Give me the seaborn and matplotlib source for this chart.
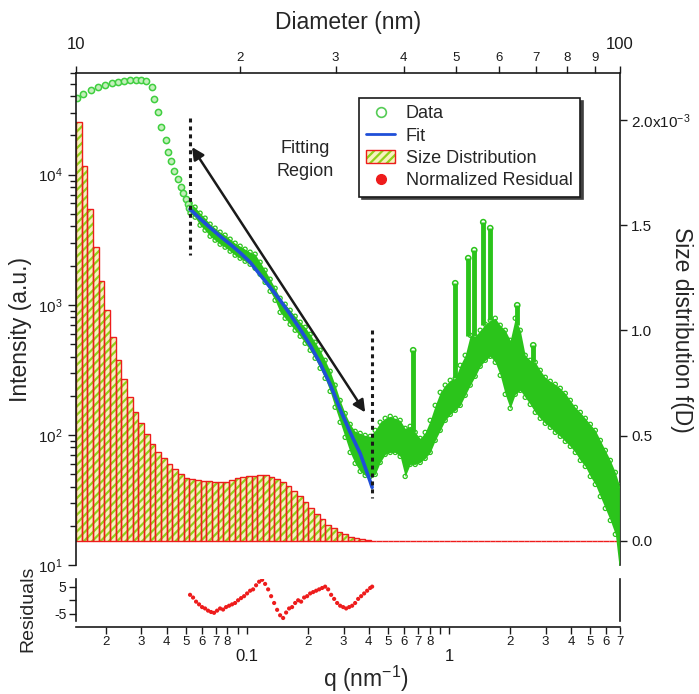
import numpy as np
import matplotlib
matplotlib.use("Agg")
import matplotlib.pyplot as plt
import seaborn as sns
from matplotlib.ticker import FixedLocator, FuncFormatter, LogLocator, NullFormatter, LogFormatterMathtext
from matplotlib.patches import Patch
from matplotlib.lines import Line2D

sns.set_theme(style="white")
plt.rcParams["font.family"] = ["Liberation Sans", "DejaVu Sans"]
plt.rcParams["mathtext.fontset"] = "custom"
plt.rcParams["mathtext.rm"] = "Liberation Sans"
plt.rcParams["mathtext.it"] = "Liberation Sans:italic"
plt.rcParams["hatch.linewidth"] = 1.6

# ---------------- data ----------------
# low-q scattering data (discrete points)
q_low = [0.01435, 0.01549, 0.01684, 0.01836, 0.01982, 0.02138, 0.02298, 0.02460, 0.02636,
         0.02822, 0.02987, 0.03162, 0.03375, 0.03477, 0.03626, 0.03740, 0.03958, 0.04077,
         0.04205, 0.04366, 0.04539, 0.04713, 0.04838, 0.04989, 0.05086, 0.05181]
I_low = [3.90e4, 4.14e4, 4.47e4, 4.69e4, 4.88e4, 5.08e4, 5.19e4, 5.28e4, 5.33e4,
         5.35e4, 5.33e4, 5.28e4, 4.69e4, 3.81e4, 3.04e4, 2.33e4, 1.84e4, 1.50e4,
         1.27e4, 1.07e4, 9.18e3, 7.97e3, 7.17e3, 6.48e3, 5.93e3, 5.50e3]

# dense scattering data: q, centre intensity, lower and upper error extents
q_dense = [0.05222, 0.05529, 0.05853, 0.06197, 0.06561, 0.06946, 0.07354, 0.07785, 0.08242,
           0.08726, 0.09238, 0.09775, 0.1035, 0.1096, 0.1160, 0.1228, 0.1300, 0.1376,
           0.1457, 0.1543, 0.1633, 0.1729, 0.1831, 0.1938, 0.2052, 0.2171, 0.2298,
           0.2433, 0.2576, 0.2727, 0.2887, 0.3057, 0.3236, 0.3426, 0.3627, 0.3840,
           0.4065, 0.4304, 0.4556, 0.4824, 0.5107, 0.5407, 0.5720, 0.6056, 0.6411,
           0.6788, 0.7186, 0.7608, 0.8054, 0.8527, 0.9028, 0.9558, 1.012, 1.071,
           1.134, 1.200, 1.271, 1.345, 1.424, 1.508, 1.597, 1.690, 1.789,
           1.894, 2.004, 2.122, 2.247, 2.378, 2.518, 2.666, 2.822, 2.988,
           3.163, 3.349, 3.545, 3.753, 3.974, 4.207, 4.454, 4.715, 4.992,
           5.285, 5.595, 5.923, 6.271, 6.639, 6.95]
I_hi = [6036, 5624, 5057, 4629, 4162, 3877, 3612, 3425, 3191,
        2972, 2818, 2672, 2535, 2446, 2123, 1842, 1571, 1339,
        1122, 1009, 907, 816, 734, 671, 593, 515, 447,
        374, 308, 241, 184, 146, 120.5, 106.4, 102.7, 99.1,
        97.4, 108.3, 125, 134, 138.8, 134, 129.3, 112.2, 116.3,
        104.5, 94, 104.5, 129.3, 168.6, 212.3, 241, 262.6, 272,
        342.5, 408.8, 582.6, 572.4, 636.6, 708, 760, 787.4, 695.6,
        636.6, 533.3, 787.4, 636.6, 408.8, 374.2, 361.2, 313.4, 276.9,
        258, 244.6, 227.9, 208.5, 184.2, 162.7, 148.9, 134, 120.5,
        108.3, 90.7, 76, 63.66, 51.5, 40.9]
I_mid = [5525, 5148, 4547, 4162, 3742, 3486, 3248, 3079, 2868,
         2672, 2535, 2403, 2279, 2123, 1909, 1656, 1412, 1205,
         991, 891, 801, 721, 648, 583, 515, 447, 381,
         319, 258, 198, 152, 118, 94, 80.1, 73.3, 69.5,
         68.3, 73.3, 87.5, 97.4, 100.9, 99.1, 94, 73.3, 83,
         78.7, 76, 83, 97.4, 125, 152, 177.8, 194.3, 204.9,
         241, 313.4, 374.2, 401.7, 462.8, 515, 552.5, 533.3, 446.7,
         361.2, 292, 401.7, 374.2, 281.8, 253.5, 232, 204.9, 184.2,
         171.6, 159.9, 148.9, 136.4, 122.6, 108.3, 97.4, 87.5, 76,
         66, 55.3, 45.5, 37.42, 29.7, 22]
I_lo = [5057, 4711, 4088, 3742, 3365, 3134, 2920, 2769, 2580,
        2403, 2279, 2160, 2049, 1909, 1716, 1489, 1270, 1083,
        875, 787, 708, 637, 573, 506, 447, 388, 325,
        272, 216, 163, 125, 95.7, 73.3, 60.4, 52.4, 48.8,
        47.95, 49.7, 61.4, 70.8, 73.3, 73.3, 68.3, 47.95, 59.3,
        59.3, 61.4, 66, 73.3, 90.7, 108.3, 129.3, 143.7, 154.3,
        168.6, 201.3, 241, 281.8, 336.5, 374.2, 401.7, 361.2, 286.8,
        204.9, 159.9, 204.9, 219.9, 194.3, 171.6, 148.9, 134, 122.6,
        114.2, 104.5, 97.4, 89.1, 81.6, 73.3, 63.66, 57.2, 47.95,
        41.6, 33.6, 27.2, 22, 17.2, 9.3]

# narrow peaks in the data
spike_q = [0.6635, 1.071, 1.242, 1.330, 1.474, 1.596, 2.171, 2.605]
spike_base = [104.5, 272, 580, 572, 700, 760, 700, 365]
spike_top = [447, 1463, 2279, 2626, 4312, 3877, 991, 488]

# fit curve
q_fit = [0.05222, 0.05853, 0.06561, 0.07354, 0.08242, 0.09238, 0.1035, 0.1160, 0.1300,
         0.1457, 0.1633, 0.1831, 0.2052, 0.2298, 0.2576, 0.2887, 0.3236, 0.3627,
         0.4065, 0.4157]
I_fit = [5428, 4587, 3912, 3364, 2920, 2512, 2123, 1701, 1364,
         1083, 845, 648, 488, 354.8, 244.6, 157, 104.5, 72.0,
         43.9, 39.5]
fit_range_q = [0.0522, 0.416]

# normalized residuals
q_res = [0.05222, 0.05404, 0.05592, 0.05786, 0.05987, 0.06196, 0.06411, 0.06634, 0.06865,
         0.07104, 0.07351, 0.07607, 0.07871, 0.08145, 0.08428, 0.08722, 0.09025, 0.09339,
         0.09664, 0.1000, 0.1035, 0.1071, 0.1108, 0.1147, 0.1187, 0.1228, 0.1271,
         0.1315, 0.1361, 0.1408, 0.1457, 0.1508, 0.1560, 0.1614, 0.1670, 0.1729,
         0.1789, 0.1851, 0.1915, 0.1982, 0.2051, 0.2122, 0.2196, 0.2272, 0.2351,
         0.2433, 0.2518, 0.2605, 0.2696, 0.2790, 0.2887, 0.2987, 0.3091, 0.3199,
         0.3310, 0.3425, 0.3544, 0.3667, 0.3795, 0.3927, 0.4064, 0.4157]
res = [2.0, 1.0, -0.5, -1.5, -2.5, -3.0, -3.8, -4.3, -4.6,
       -3.8, -3.0, -3.4, -2.5, -2.0, -1.5, -1.0, 0.0, 0.8,
       1.5, 2.5, 3.5, 4.0, 5.5, 6.8, 7.5, 6.0, 4.0,
       1.5, -1.0, -3.5, -5.5, -6.5, -4.5, -3.0, -2.5, -1.0,
       0.0, -0.5, 1.0, 1.5, 2.5, 3.0, 3.5, 4.0, 4.5,
       5.0, 4.0, 2.0, 0.5, -1.0, -2.0, -2.5, -3.0, -2.5,
       -2.0, -1.0, 0.5, 1.5, 2.5, 3.5, 4.5, 5.0]

# size distribution f(D) on log-spaced diameter bins, 10-100 nm
n_bins = 96
f_D_e3 = [1.992, 1.781, 1.576, 1.397, 1.235, 1.095, 0.971, 0.860, 0.768, 0.686,
          0.614, 0.559, 0.508, 0.460, 0.425, 0.394, 0.365, 0.341, 0.320, 0.301,
          0.295, 0.290, 0.286, 0.283, 0.281, 0.281, 0.282, 0.288, 0.298, 0.302,
          0.307, 0.310, 0.313, 0.312, 0.305, 0.295, 0.279, 0.260, 0.236, 0.214,
          0.186, 0.157, 0.129, 0.105, 0.076, 0.060, 0.045, 0.031, 0.021, 0.014,
          0.008, 0.005, 0.002, 0.001] + [0.0] * 42

# ---------------- styles ----------------
GREEN = "#2bc41b"
BLUE = "#1f4fd8"
RED = "#ee1c1c"
HATCH_GREEN = "#8fd21a"
FILL_YELLOW = "#f7f2bf"

fig = plt.figure(figsize=(6.99, 6.94), dpi=100)
W, H = 699, 694
main_rect = [76 / W, 1 - 565 / H, 544 / W, 492 / H]
res_rect = [76 / W, 1 - 627 / H, 544 / W, 48 / H]

# histogram axes (top diameter axis + right size-distribution axis)
axh = fig.add_axes(main_rect)
axh.patch.set_visible(False)
D_edges = np.geomspace(10, 100, n_bins + 1)
f_D = np.array(f_D_e3) * 1e-3
axh.bar(D_edges[:-1], f_D, width=np.diff(D_edges), align="edge",
        facecolor=FILL_YELLOW, edgecolor=HATCH_GREEN, linewidth=0, hatch="////")
axh.bar(D_edges[:-1], f_D, width=np.diff(D_edges), align="edge",
        facecolor="none", edgecolor=RED, linewidth=1.0)
axh.set_xscale("log")
axh.set_xlim(10, 100)
axh.set_ylim(-0.114e-3, 2.223e-3)
axh.xaxis.set_ticks_position("top")
axh.yaxis.set_ticks_position("right")
axh.xaxis.set_major_locator(FixedLocator([10, 100]))
axh.xaxis.set_major_formatter(FuncFormatter(lambda v, p: f"{v:g}"))
axh.xaxis.set_minor_locator(FixedLocator([20, 30, 40, 50, 60, 70, 80, 90]))
axh.xaxis.set_minor_formatter(FuncFormatter(lambda v, p: f"{int(round(v / 10))}"))
axh.tick_params(axis="x", which="major", direction="out", length=5, width=1, labelsize=12, pad=10, colors="k")
axh.tick_params(axis="x", which="minor", direction="out", length=5, width=1, labelsize=9.5, pad=1.5, colors="k")
right_labels = ["0.0", "0.5", "1.0", "1.5", "2.0x10$^{-3}$"]
axh.yaxis.set_major_locator(FixedLocator([0, 0.5e-3, 1.0e-3, 1.5e-3, 2.0e-3]))
axh.yaxis.set_major_formatter(FuncFormatter(lambda v, p: right_labels[int(round(v / 0.5e-3))]))
axh.yaxis.set_minor_locator(FixedLocator([]))
axh.tick_params(axis="y", which="major", direction="out", length=5, width=1, labelsize=11, pad=3, colors="k")
for s in ["left", "bottom"]:
    axh.spines[s].set_visible(False)
for s in ["top", "right"]:
    axh.spines[s].set_color("k")
    axh.spines[s].set_linewidth(1.2)

# main intensity axes
ax = fig.add_axes(main_rect)
ax.patch.set_visible(False)
ax.fill_between(q_dense, I_lo, I_hi, color=GREEN, linewidth=0)
ax.scatter(q_dense, I_hi, s=9, facecolor="none", edgecolor=GREEN, linewidth=0.9)
ax.scatter(q_dense, I_lo, s=9, facecolor="none", edgecolor=GREEN, linewidth=0.9)
ax.vlines(spike_q, spike_base, spike_top, color=GREEN, linewidth=3.5)
ax.scatter(spike_q, spike_top, s=14, facecolor="none", edgecolor=GREEN, linewidth=1.1)
sns.scatterplot(x=q_low, y=I_low, ax=ax, s=20, color="#c4efbc", edgecolor="#3fcf3f", linewidth=1.1)
sns.lineplot(x=q_fit, y=I_fit, ax=ax, color=BLUE, linewidth=2.6, sort=False, estimator=None)
ax.set_xscale("log")
ax.set_yscale("log")
ax.set_xlim(0.01424, 7.0)
ax.set_ylim(10, 6.04e4)
ax.plot([fit_range_q[0]] * 2, [2.72e4, 2403], color="k", linewidth=2.2, linestyle=(0, (1.3, 1.3)))
ax.plot([fit_range_q[1]] * 2, [637, 33.0], color="k", linewidth=2.2, linestyle=(0, (1.3, 1.3)))
ax.annotate("", xy=(0.05342, 1.627e4), xytext=(0.3839, 148.9),
            arrowprops=dict(arrowstyle="<|-|>", color="k", lw=1.8, mutation_scale=18,
                            shrinkA=0, shrinkB=0))
ax.text(0.1937, 1.293e4, "Fitting\nRegion", ha="center", va="center", fontsize=13, linespacing=1.45)
ax.yaxis.set_major_locator(FixedLocator([10, 100, 1000, 10000]))
ax.yaxis.set_major_formatter(LogFormatterMathtext())
ax.yaxis.set_minor_locator(LogLocator(base=10, subs=np.arange(2, 10), numticks=50))
ax.yaxis.set_minor_formatter(NullFormatter())
ax.tick_params(axis="y", which="major", direction="out", length=6, width=1, labelsize=11, left=True, colors="k")
ax.tick_params(axis="y", which="minor", direction="out", length=4, width=1, left=True, colors="k")
ax.tick_params(axis="x", which="both", bottom=False, top=False, labelbottom=False)
for s in ["top", "right", "bottom"]:
    ax.spines[s].set_visible(False)
ax.spines["left"].set_color("k")
ax.spines["left"].set_linewidth(1.2)
ax.set_xlabel("")
ax.set_ylabel("")

# residual axes
axr = fig.add_axes(res_rect)
sns.scatterplot(x=q_res, y=res, ax=axr, s=9, color=RED, edgecolor="none")
axr.set_xscale("log")
axr.set_xlim(0.01424, 7.0)
axr.set_ylim(-9.8, 7.8)
axr.xaxis.set_major_locator(FixedLocator([0.1, 1]))
axr.xaxis.set_major_formatter(FuncFormatter(lambda v, p: f"{v:g}"))
axr.xaxis.set_minor_locator(LogLocator(base=10, subs=np.arange(2, 10), numticks=50))


def minor_lab(v, p):
    d = int(round(v / 10 ** np.floor(np.log10(v) + 1e-9)))
    return "" if d == 9 else str(d)


axr.xaxis.set_minor_formatter(FuncFormatter(minor_lab))
axr.tick_params(axis="x", which="major", direction="out", length=5, width=1, labelsize=12, pad=11, bottom=True, colors="k")
axr.tick_params(axis="x", which="minor", direction="out", length=5, width=1, labelsize=9.5, pad=1.5, bottom=True, colors="k")
axr.yaxis.set_major_locator(FixedLocator([-5, 0, 5]))
axr.yaxis.set_major_formatter(FuncFormatter(lambda v, p: "" if v == 0 else f"{v:g}"))
axr.tick_params(axis="y", which="major", direction="out", length=5, width=1, labelsize=10, left=True, colors="k", pad=2)
axr.spines["top"].set_visible(False)
for s in ["left", "right", "bottom"]:
    axr.spines[s].set_color("k")
    axr.spines[s].set_linewidth(1.2)
axr.spines["left"].set_bounds(-7.5, 7.8)
axr.spines["right"].set_bounds(-7.5, 7.8)
axr.set_xlabel("")
axr.set_ylabel("")

# axis titles
fig.text(348 / W, 1 - 23 / H, "Diameter (nm)", ha="center", va="center", fontsize=16.5)
fig.text(21 / W, 1 - 330 / H, "Intensity (a.u.)", ha="center", va="center", rotation=90, fontsize=16.5)
fig.text(682 / W, 1 - 330 / H, "Size distribution f(D)", ha="center", va="center", rotation=270, fontsize=16.5)
fig.text(28 / W, 1 - 609 / H, "Residuals", ha="center", va="center", rotation=90, fontsize=14)
fig.text(366 / W, 1 - 679 / H, "q (nm$^{-1}$)", ha="center", va="center", fontsize=16.5)

# legend
h_data = Line2D([], [], marker="o", linestyle="none", markerfacecolor="none",
                markeredgecolor="#55cc55", markersize=7, markeredgewidth=1.2)
h_fit = Line2D([], [], color=BLUE, linewidth=2)
h_sd = (Patch(facecolor=FILL_YELLOW, edgecolor=HATCH_GREEN, linewidth=0, hatch="////"),
        Patch(facecolor="none", edgecolor=RED, linewidth=1.0))
h_res = Line2D([], [], marker="o", linestyle="none", color=RED, markersize=7)
leg = fig.legend([h_data, h_fit, h_sd, h_res],
                 ["Data", "Fit", "Size Distribution", "Normalized Residual"],
                 loc="upper left", bbox_to_anchor=(359 / W, 1 - 98 / H), bbox_transform=fig.transFigure,
                 fontsize=13, frameon=True, fancybox=False, shadow={"color": "0.25", "alpha": 1},
                 borderpad=0.4, labelspacing=0.3, handlelength=1.6, handletextpad=0.6,
                 handleheight=0.7, borderaxespad=0)
leg.get_frame().set_edgecolor("k")
leg.get_frame().set_linewidth(1.2)

fig.savefig("out.png", dpi=100)
